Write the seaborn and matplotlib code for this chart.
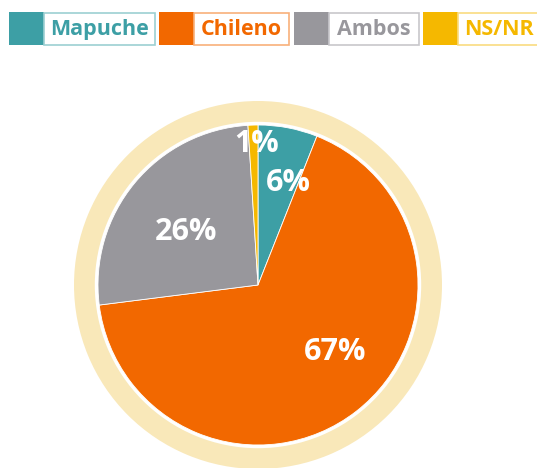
import matplotlib
matplotlib.use('Agg')
import matplotlib.pyplot as plt
import seaborn as sns
from matplotlib.patches import Rectangle

# datos
categorias = ['Mapuche', 'Chileno', 'Ambos', 'NS/NR']
valores = [6, 67, 26, 1]
colores = ['#3d9fa5', '#f26800', '#98979c', '#f5b800']
bordes = ['#9ccfd2', '#f8b07a', '#c8c7cb', '#f9db80']
etiquetas = ['6%', '67%', '26%', '1%']

sns.set_theme(style='white')
plt.rcParams['font.family'] = ['Open Sans', 'DejaVu Sans']

W, H = 537, 468
fig = plt.figure(figsize=(W / 100, H / 100), dpi=100)
fig.patch.set_facecolor('white')

ax = fig.add_axes([0, 0, 1, 1])

# pierscien
ax.pie([1], radius=1.15, colors=['#f9e8b9'], startangle=90,
       wedgeprops=dict(width=0.13, linewidth=0))

wedges, _ = ax.pie(valores, colors=colores, startangle=90, counterclock=False,
                   radius=1.0, wedgeprops=dict(edgecolor='white', linewidth=0.6))

# pie - 160 px na jednostke, srodek w (258, 285)
ax.set_xlim(-258 / 160, (W - 258) / 160)
ax.set_ylim(-(H - 285) / 160, 285 / 160)
ax.set_aspect('equal')
ax.axis('off')

# pozycje etykiet (jednostki danych)
pos_etiq = [(0.19, 0.64), (0.48, -0.42), (-0.45, 0.33), (-0.01, 0.88)]
for t, (x, y) in zip(etiquetas, pos_etiq):
    ax.text(x, y, t, color='white', fontsize=22, fontweight='bold',
            ha='center', va='center')

# legenda w pikselach
lg = fig.add_axes([0, 0, 1, 1])
lg.set_xlim(0, W)
lg.set_ylim(H, 0)
lg.axis('off')
lg.patch.set_alpha(0)

pola = [(9, 44, 155), (159, 194, 289), (294, 329, 419), (423, 458, 545)]
y0, y1 = 12, 45
for (a, b, c), kol, brd, nazwa in zip(pola, colores, bordes, categorias):
    lg.add_patch(Rectangle((a, y0), b - a, y1 - y0, facecolor=kol, edgecolor='none'))
    lg.add_patch(Rectangle((b, y0 + 0.5), c - b - 0.5, y1 - y0 - 1, facecolor='white',
                           edgecolor=brd, linewidth=1.2))
    cx = (b + c) / 2 if c < W else b + 6
    lg.text(cx, (y0 + y1) / 2 + 1, nazwa, color=kol, fontsize=15.5, fontweight='bold',
            ha='center' if c < W else 'left', va='center')

fig.savefig('out.png', dpi=100)
